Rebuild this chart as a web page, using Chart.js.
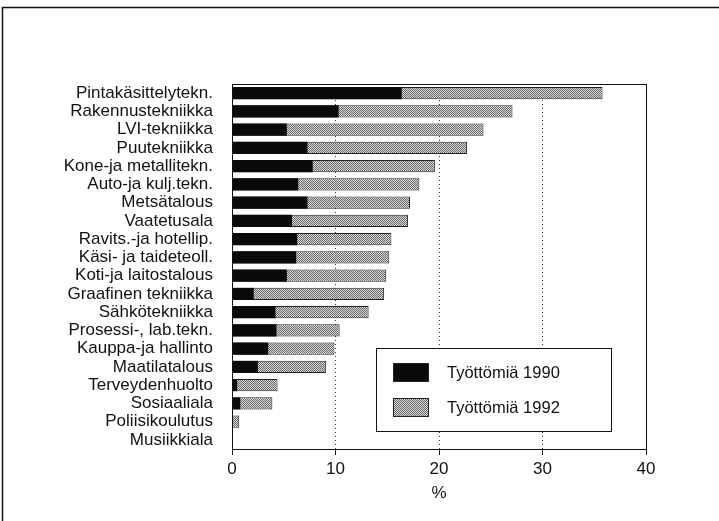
<!DOCTYPE html>
<html>
<head>
<meta charset="utf-8">
<script src="https://cdn.jsdelivr.net/npm/chart.js@4"></script>
<style>
  html, body { margin: 0; padding: 0; background: #fff; }
  #wrap { width: 719px; height: 521px; position: relative; }
</style>
</head>
<body>
<div id="wrap"><canvas id="myChart" width="719" height="521"></canvas></div>
<script>
const categories = ['Pintakäsittelytekn.', 'Rakennustekniikka', 'LVI-tekniikka', 'Puutekniikka',
  'Kone-ja metallitekn.', 'Auto-ja kulj.tekn.', 'Metsätalous', 'Vaatetusala',
  'Ravits.-ja hotellip.', 'Käsi- ja taideteoll.', 'Koti-ja laitostalous', 'Graafinen tekniikka',
  'Sähkötekniikka', 'Prosessi-, lab.tekn.', 'Kauppa-ja hallinto', 'Maatilatalous',
  'Terveydenhuolto', 'Sosiaaliala', 'Poliisikoulutus', 'Musiikkiala']
const values1990 = [16.4, 10.3, 5.3, 7.3, 7.8, 6.4, 7.3, 5.8, 6.3, 6.2, 5.3, 2.1, 4.2, 4.3, 3.5, 2.5, 0.5, 0.8, 0, 0]
const values1992 = [35.8, 27.1, 24.3, 22.7, 19.6, 18.1, 17.2, 17.0, 15.4, 15.2, 14.9, 14.7, 13.2, 10.4, 9.9, 9.1, 4.4, 3.9, 0.7, 0]
const xTicks = [0, 10, 20, 30, 40]
const seriesNames = ['Työttömiä 1990', 'Työttömiä 1992']

const font = 'Liberation Sans, Arial, Helvetica, sans-serif'

// stipple fill for the 1992 bars
function makeStipple() {
  const c = document.createElement('canvas')
  c.width = 2; c.height = 2
  const g = c.getContext('2d')
  g.fillStyle = '#dcdcdc'; g.fillRect(0, 0, 2, 2)
  g.fillStyle = '#666'; g.fillRect(0, 0, 1, 1); g.fillRect(1, 1, 1, 1)
  return g.createPattern(c, 'repeat')
}
const stipple = makeStipple()

const framePlugin = {
  id: 'frame',
  beforeDraw(chart) {
    const ctx = chart.ctx
    ctx.save()
    ctx.fillStyle = '#fff'
    ctx.fillRect(0, 0, chart.width, chart.height)
    ctx.strokeStyle = '#111'
    ctx.lineWidth = 1.5
    ctx.beginPath()
    ctx.moveTo(2.5, chart.height)
    ctx.lineTo(2.5, 7.5)
    ctx.lineTo(chart.width, 7.5)
    ctx.stroke()
    ctx.restore()
  },
  afterDraw(chart) {
    const ctx = chart.ctx
    const a = chart.chartArea
    ctx.save()
    // plot box
    ctx.strokeStyle = '#111'
    ctx.lineWidth = 1
    ctx.strokeRect(a.left + 0.5, a.top + 0.5, a.right - a.left, a.bottom - a.top)
    // legend box
    const lx = a.left + 144, ly = a.top + 264
    ctx.fillStyle = '#fff'
    ctx.fillRect(lx, ly, 235, 83)
    ctx.strokeRect(lx + 0.5, ly + 0.5, 235, 83)
    const fills = ['#0a0a0a', stipple]
    ctx.font = '16.5px ' + font
    ctx.textBaseline = 'middle'
    for (let i = 0; i < 2; i++) {
      const sy = ly + 15 + i * 35
      ctx.fillStyle = fills[i]
      ctx.fillRect(lx + 17, sy, 35, 18)
      ctx.strokeStyle = '#222'
      ctx.strokeRect(lx + 17.5, sy + 0.5, 35, 18)
      ctx.fillStyle = '#111'
      ctx.fillText(seriesNames[i], lx + 71, sy + 10)
    }
    ctx.restore()
  }
}

const chart = document.getElementById('myChart')

const myData = {
  labels: categories,
  datasets: [{
    label: seriesNames[0],
    data: values1990,
    backgroundColor: '#0a0a0a',
    borderWidth: 0,
    order: 0
  }, {
    label: seriesNames[1],
    data: values1992,
    backgroundColor: stipple,
    borderColor: '#222',
    borderWidth: 1,
    order: 1
  }]
}

const myConfig = {
  type: 'bar',
  data: myData,
  plugins: [framePlugin],
  options: {
    indexAxis: 'y',
    responsive: false,
    animation: false,
    layout: { padding: { top: 84, right: 73, left: 0, bottom: 17 } },
    datasets: { bar: { grouped: false, categoryPercentage: 1, barPercentage: 0.66 } },
    scales: {
      x: {
        min: 0, max: 40,
        afterBuildTicks(scale) { scale.ticks = xTicks.map(v => ({ value: v })) },
        afterFit(scale) { scale.height = 55 },
        grid: {
          color: ctx => (ctx.tick && (ctx.tick.value === 0 || ctx.tick.value === 40)) ? 'rgba(0,0,0,0)' : '#333',
          tickColor: '#111',
          tickLength: 6,
          tickBorderDash: []
        },
        border: { color: '#111', width: 1, dash: [1, 3] },
        ticks: { color: '#111', font: { family: font, size: 17 }, padding: 4 },
        title: { display: true, text: '%', color: '#111', font: { family: font, size: 17 }, padding: { top: 2, bottom: 0 } }
      },
      y: {
        afterFit(scale) { scale.width = 232 },
        grid: { display: false, drawTicks: false },
        border: { color: '#111', width: 1 },
        ticks: { color: '#111', font: { family: font, size: 17 }, padding: 19, autoSkip: false }
      }
    },
    plugins: {
      legend: { display: false },
      tooltip: { enabled: false }
    }
  }
}

new Chart(chart, myConfig)
</script>
</body>
</html>
